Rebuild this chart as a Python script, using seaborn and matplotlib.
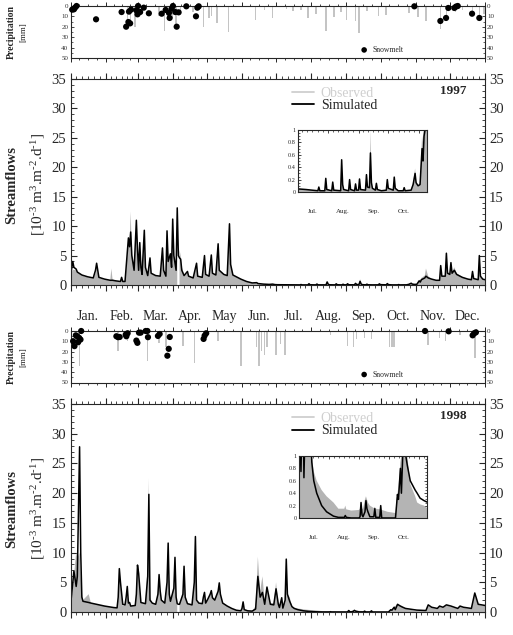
import numpy as np
import matplotlib
matplotlib.use("Agg")
import matplotlib.pyplot as plt
import matplotlib.transforms as mtransforms
from matplotlib.lines import Line2D
from matplotlib.ticker import MultipleLocator, FixedLocator
import seaborn as sns

# calendar
month_len = [31, 28, 31, 30, 31, 30, 31, 31, 30, 31, 30, 31]
month_names = ["Jan.", "Feb.", "Mar.", "Apr.", "May", "Jun.",
               "Jul.", "Aug.", "Sep.", "Oct.", "Nov.", "Dec."]
inset_months = ["Jul.", "Aug.", "Sep.", "Oct."]

# ---- 1997 streamflows (day of year, simulated, observed) ----
days_97 = [0, 2, 3, 5, 6, 10, 15, 20, 22, 23,
           25, 30, 35, 36, 37, 40, 44, 45, 46, 48,
           49, 51, 52, 53, 54, 56, 58, 59, 60, 61,
           62, 63, 65, 66, 68, 70, 71, 75, 79, 81,
           82, 84, 85, 86, 88, 89, 90, 91, 93, 94,
           95, 96, 97, 98, 100, 103, 104, 108, 111, 112,
           116, 118, 119, 122, 124, 125, 128, 130, 131, 135,
           138, 140, 141, 143, 145, 150, 155, 160, 164, 165,
           170, 175, 178, 180, 182, 190, 196, 202, 203, 204,
           209, 210, 211, 216, 217, 218, 225, 226, 227, 228,
           233, 234, 235, 239, 240, 241, 243, 244, 245, 250,
           251, 252, 254, 255, 256, 257, 260, 261, 262, 266,
           271, 272, 273, 278, 279, 280, 283, 288, 289, 290,
           296, 298, 300, 301, 303, 305, 307, 308, 309, 312,
           313, 315, 318, 322, 325, 326, 327, 330, 331, 332,
           334, 335, 336, 338, 340, 345, 350, 353, 354, 355,
           359, 360, 361, 363, 365]
sim_97 = [1.5, 4.0, 3.0, 2.7, 2.2, 1.7, 1.4, 1.2, 2.5, 3.7,
          1.3, 1.0, 0.8, 0.8, 0.8, 0.7, 0.6, 1.3, 0.6, 0.6,
          3.0, 8.0, 6.5, 9.0, 5.0, 2.5, 11.0, 6.0, 2.5, 7.2,
          3.0, 1.8, 9.3, 3.0, 1.6, 4.6, 2.0, 1.6, 1.5, 6.3,
          2.5, 1.5, 9.2, 4.0, 5.3, 3.0, 11.2, 5.0, 2.5, 13.1,
          5.0, 4.6, 4.4, 2.5, 1.6, 2.3, 1.5, 1.2, 3.7, 1.5,
          1.3, 5.0, 1.8, 1.5, 5.1, 2.0, 1.7, 7.0, 2.5, 1.8,
          1.6, 10.4, 3.5, 1.7, 1.5, 1.0, 0.6, 0.35, 0.4, 0.25,
          0.15, 0.1, 0.15, 0.07, 0.05, 0.04, 0.03, 0.02, 0.08, 0.02,
          0.02, 0.22, 0.04, 0.02, 0.16, 0.03, 0.02, 0.52, 0.12, 0.04,
          0.02, 0.2, 0.04, 0.02, 0.13, 0.03, 0.03, 0.21, 0.04, 0.03,
          0.28, 0.08, 0.07, 0.63, 0.15, 0.06, 0.03, 0.14, 0.04, 0.02,
          0.03, 0.2, 0.06, 0.03, 0.24, 0.06, 0.02, 0.02, 0.07, 0.02,
          0.03, 0.12, 0.3, 0.15, 0.1, 0.12, 0.7, 0.5, 0.9, 1.2,
          1.5, 1.2, 1.0, 0.8, 0.8, 3.3, 1.5, 1.5, 5.4, 2.0,
          1.8, 3.8, 2.0, 2.5, 1.8, 1.3, 1.0, 0.9, 2.3, 1.1,
          0.9, 5.0, 1.5, 1.0, 0.9]
obs_97 = [1.8, 2.5, 2.6, 2.5, 2.2, 1.6, 1.3, 1.1, 2.0, 3.0,
          1.2, 0.9, 0.8, 2.8, 1.0, 0.7, 0.6, 1.0, 0.6, 0.6,
          2.5, 7.5, 7.0, 12.5, 5.5, 2.5, 10.5, 6.0, 3.0, 6.5,
          3.0, 1.8, 8.5, 3.0, 1.6, 4.0, 2.0, 1.5, 1.4, 5.5,
          2.5, 1.5, 8.0, 4.0, 5.0, 3.0, 10.0, 5.0, 2.5, 12.0,
          np.nan, 6.0, 5.0, 3.0, 1.8, 2.0, 1.5, 1.2, 3.2, 1.5,
          1.3, 4.5, 1.8, 1.5, 4.5, 2.0, 1.7, 6.5, 2.5, 1.8,
          1.6, 9.5, 3.5, 1.8, 1.5, 1.0, 0.6, 0.3, 0.35, 0.25,
          0.15, 0.1, 0.12, 0.07, 0.05, 0.04, 0.03, 0.02, 0.07, 0.02,
          0.02, 0.2, 0.04, 0.02, 0.14, 0.03, 0.02, 0.45, 0.12, 0.04,
          0.02, 0.18, 0.04, 0.02, 0.12, 0.03, 0.03, 0.18, 0.04, 0.03,
          0.25, 0.08, 0.07, 1.0, 0.15, 0.06, 0.03, 0.12, 0.04, 0.02,
          0.03, 0.17, 0.06, 0.03, 0.2, 0.06, 0.02, 0.02, 0.06, 0.02,
          0.03, 0.15, 0.38, 0.18, 0.1, 0.15, 0.9, 0.8, 1.2, 1.6,
          2.8, 1.5, 1.0, 0.8, 0.8, 2.8, 1.5, 1.5, 4.8, 2.2,
          2.0, 3.5, 2.2, 3.0, 2.0, 1.4, 1.0, 0.9, 2.0, 1.1,
          0.9, 4.5, 1.5, 1.0, 0.9]

# ---- 1998 streamflows ----
days_98 = [0, 3, 5, 6, 8, 9, 10, 11, 16, 18,
           25, 30, 38, 41, 42, 43, 44, 46, 48, 49,
           50, 51, 52, 53, 57, 58, 59, 60, 62, 66,
           68, 69, 70, 72, 75, 77, 78, 79, 80, 83,
           85, 86, 87, 88, 91, 92, 93, 94, 95, 96,
           99, 100, 101, 103, 107, 109, 110, 111, 113, 116,
           117, 118, 119, 121, 123, 124, 125, 127, 130, 131,
           132, 134, 138, 142, 146, 150, 151, 152, 153, 156,
           160, 163, 165, 167, 169, 171, 173, 176, 179, 181,
           183, 184, 186, 187, 189, 190, 191, 193, 195, 197,
           200, 205, 210, 217, 222, 228, 229, 230, 235, 243,
           244, 245, 246, 247, 249, 250, 251, 252, 254, 258,
           259, 260, 264, 265, 266, 272, 280, 281, 282, 283,
           285, 286, 288, 290, 292, 295, 300, 302, 305, 309,
           313, 315, 318, 323, 325, 328, 331, 335, 341, 343,
           346, 353, 356, 359, 365]
sim_98 = [1.0, 6.9, 4.3, 6.0, 27.8, 10.0, 2.5, 1.8, 1.6, 1.5,
          1.2, 1.0, 0.75, 0.7, 2.5, 7.3, 5.0, 1.3, 1.2, 2.5,
          4.3, 1.5, 1.6, 1.0, 1.1, 3.0, 7.9, 6.5, 1.6, 1.4,
          6.0, 19.8, 2.0, 1.5, 1.3, 3.0, 6.3, 3.5, 2.0, 1.5,
          5.0, 11.6, 3.0, 1.8, 4.0, 9.2, 2.5, 1.4, 1.3, 1.3,
          3.0, 7.7, 2.5, 1.4, 1.2, 5.0, 12.7, 2.0, 1.5, 1.4,
          2.5, 3.3, 1.5, 2.2, 3.0, 3.6, 2.4, 2.0, 3.5, 4.9,
          3.0, 1.5, 1.0, 0.6, 0.3, 0.2, 0.6, 1.7, 0.4, 0.2,
          0.15, 0.5, 6.0, 2.5, 3.3, 1.3, 4.2, 1.3, 1.2, 3.9,
          1.3, 0.75, 2.4, 0.65, 2.0, 8.9, 3.0, 1.8, 0.9, 0.6,
          0.4, 0.2, 0.1, 0.03, 0.01, 0.01, 0.04, 0.01, 0.0, 0.0,
          0.02, 0.25, 0.05, 0.02, 0.1, 0.28, 0.15, 0.1, 0.02, 0.02,
          0.15, 0.01, 0.01, 0.2, 0.0, 0.0, 0.0, 0.2, 0.38, 0.3,
          0.8, 0.4, 1.3, 1.05, 0.85, 0.6, 0.45, 0.4, 0.32, 0.28,
          0.25, 1.2, 0.8, 0.6, 1.0, 0.8, 1.2, 1.0, 0.6, 1.0,
          0.8, 0.6, 3.2, 1.3, 1.1]
obs_98 = [0.5, 6.0, 10.0, 9.0, 10.0, 6.0, 3.0, 2.0, 3.0, 1.5,
          1.2, 1.0, 0.75, 0.7, 2.0, 6.5, 4.5, 1.0, 1.2, 2.0,
          3.5, 1.5, 1.4, 1.0, 1.1, 3.0, 7.0, 6.0, 1.6, 1.4,
          8.0, 22.5, 2.5, 1.5, 1.3, 3.5, 6.0, 3.5, 2.2, 1.5,
          5.0, 10.5, 3.5, 2.0, 4.0, 8.5, 2.8, 1.5, np.nan, 1.5,
          3.0, 7.0, 2.5, 1.4, 1.2, 5.0, 11.5, 2.0, 1.5, 1.4,
          2.5, 3.0, 1.5, 2.0, 2.8, 3.3, 2.4, 2.0, 3.5, 4.5,
          3.0, 1.6, 1.0, 0.6, 0.3, 0.2, 0.5, 1.4, 0.4, 0.2,
          0.15, 1.0, 9.3, 3.5, 6.0, 2.0, 4.0, 1.5, 1.5, 5.0,
          1.5, 1.3, 2.0, 1.2, 1.5, 8.0, 3.0, 2.5, 1.0, 0.75,
          0.6, 0.45, 0.35, 0.25, 0.15, 0.15, 0.2, 0.14, 0.12, 0.13,
          0.15, 0.2, 0.15, 0.15, 0.3, 0.35, 0.3, 0.25, 0.2, 0.16,
          0.18, 0.15, 0.14, 0.16, 0.13, 0.1, 0.08, 0.3, 0.4, 0.5,
          0.9, 1.0, 1.3, 1.1, 1.0, 0.55, 0.35, 0.25, 0.22, 0.2,
          0.15, 1.0, 0.7, 0.5, 0.9, 0.7, 1.1, 0.9, 0.5, 0.9,
          0.7, 0.5, 2.8, 1.2, 1.0]

# ---- precipitation (mm) and snowmelt ----
rain_day_97 = [50, 53, 57, 63, 78, 83, 90, 93, 97, 108, 117, 122, 124, 129,
               139, 163, 171, 178, 190, 196, 203, 209, 216, 225, 232, 238,
               243, 251, 254, 261, 271, 278, 298, 306, 313, 326, 331, 339,
               345, 354, 360, 364]
rain_mm_97 = [20, 18, 20, 8, 10, 24, 12, 22, 8, 6, 20, 12, 10, 16,
              25, 13, 4, 12, 3, 5, 4, 12, 8, 24, 11, 6,
              13, 14, 26, 5, 10, 9, 7, 11, 14, 22, 14, 6,
              4, 9, 12, 8]
snow_day_97 = [1.5, 3, 4, 5.3, 22.5, 45, 49, 51, 52.5, 51.5, 53.3, 58, 59,
               59.5, 61.3, 64.5, 69, 80.3, 83.8, 86.7, 87.3, 89, 90.2, 92.3,
               93.5, 95.2, 102, 110.5, 111.7, 112.9, 302.8, 325.7, 330.7,
               332.7, 338, 339.4, 341, 353.6, 360]
snow_mm_97 = [3.5, 3.2, 1.6, 0, 12.8, 5.8, 19.9, 15.4, 16.7, 5.4, 3.5, 4.2, 8,
              0, 5.8, 1.6, 7, 7.4, 3.8, 6.7, 11.5, 2.6, 0, 5.8,
              19.9, 6.1, 0.3, 9.9, 1.6, 0.3, 0.3, 14.4, 11.5,
              1.9, 1.9, 0.6, 0, 7.4, 11.5]

rain_day_98 = [8, 42, 50, 68, 78, 84, 99, 109, 119, 130, 150, 150, 164, 166,
               168, 171, 173, 181, 185, 189, 229, 244, 249, 252, 259, 265,
               281, 283, 285, 315, 325, 330, 343, 356]
rain_mm_98 = [34, 19.5, 10, 29, 11.5, 16, 15, 31, 4, 10, 34, 34, 16, 34,
              19.5, 23, 16, 23, 13, 23, 4, 15, 16, 8, 7, 8,
              16, 16, 16, 14, 7, 10, 4, 26]
snow_day_98 = [2.3, 3.5, 4.7, 5.9, 6.7, 7.6, 8.8, 9.4, 40.4, 41.9, 43.3, 48.6,
               49.2, 50.3, 58, 58.9, 60.3, 61.8, 66.2, 67.7, 68.2, 77, 78.5,
               85.3, 86.5, 87.4, 117.2, 118.1, 119.5, 312.2, 333, 354.1,
               355.5, 357]
snow_mm_98 = [9.9, 14.7, 4.2, 5.1, 10.9, 6.7, 8.3, 0, 5.1, 6, 5.8, 3.5,
              5.1, 2.2, 9.3, 11.5, 1.6, 1.6, 0, 0, 6, 4.8, 2.9,
              24, 17.3, 5.8, 7.7, 4.5, 2.2, 0, 0.3, 4.2,
              2.2, 1.3]

sns.set_style("ticks")
plt.rcParams["font.family"] = ["Liberation Serif", "DejaVu Serif"]
plt.rcParams["mathtext.fontset"] = "custom"
plt.rcParams["mathtext.rm"] = "Liberation Serif"
plt.rcParams["mathtext.it"] = "Liberation Serif:italic"
plt.rcParams["axes.linewidth"] = 0.8

OBS_FILL = "#b4b4b4"
OBS_LINE = "#cfcfcf"

month_start = np.cumsum([0] + month_len)
month_mid = month_start[:-1] + np.array(month_len) / 2


def month_minor(n):
    ticks = []
    for s, l in zip(month_start[:-1], month_len):
        ticks += [s + l * k / n for k in range(1, n)]
    return ticks


def time_axis(ax, n_minor, lo=0, hi=365):
    ax.set_xlim(lo, hi)
    ax.xaxis.set_major_locator(FixedLocator(month_start))
    ax.xaxis.set_minor_locator(FixedLocator(month_minor(n_minor)))
    ax.set_xticklabels([])
    ax.set_xlabel("")
    ax.set_ylabel("")


def draw_precip(ax, rd, rmm, sd, smm):
    ax.bar(rd, rmm, width=1.3, color="#c4c4c4", lw=0)
    sns.scatterplot(x=sd, y=smm, ax=ax, color="k", s=20, edgecolor="none",
                    label="Snowmelt", zorder=3, clip_on=False)
    time_axis(ax, 4)
    ax.set_ylim(50, 0)
    ax.yaxis.set_major_locator(FixedLocator(range(0, 51, 10)))
    ax.yaxis.set_minor_locator(MultipleLocator(5))
    ax.tick_params(axis="x", which="major", direction="out", length=3,
                   top=True, bottom=True, width=0.7)
    ax.tick_params(axis="x", which="minor", direction="out", length=1.5,
                   top=True, bottom=True, width=0.6)
    ax.tick_params(axis="y", which="major", direction="in", length=2.5,
                   left=True, right=True, labelright=True, labelsize=5,
                   pad=1.5, width=0.6, labelcolor="#333333")
    ax.tick_params(axis="y", which="minor", direction="in", length=1.2,
                   left=True, right=True, width=0.5)
    ax.legend(loc="center left", bbox_to_anchor=(0.69, 0.155), frameon=False,
              fontsize=5.5, handletextpad=0.1, borderpad=0, borderaxespad=0,
              markerscale=0.9)


def draw_flow(ax, d, obs, sim, lw):
    ax.fill_between(d, obs, color=OBS_FILL, lw=0)
    sns.lineplot(x=d, y=sim, ax=ax, color="k", lw=lw, estimator=None)


def draw_main(ax, d, obs, sim, year):
    draw_flow(ax, d, obs, sim, 1.1)
    time_axis(ax, 6)
    ax.set_ylim(0, 35)
    ax.yaxis.set_major_locator(MultipleLocator(5))
    ax.yaxis.set_minor_locator(MultipleLocator(1))
    ax.tick_params(axis="x", which="major", direction="out", length=4,
                   top=True, bottom=True, width=0.8)
    ax.tick_params(axis="x", which="minor", direction="out", length=2,
                   top=True, bottom=True, width=0.6)
    ax.tick_params(axis="y", which="major", direction="in", length=4,
                   left=True, right=True, labelright=True, labelsize=10.5,
                   pad=3, width=0.8)
    ax.tick_params(axis="y", which="minor", direction="in", length=2,
                   left=True, right=True, width=0.6)
    handles = [Line2D([], [], color=OBS_LINE, lw=1.3),
               Line2D([], [], color="k", lw=1.3)]
    leg = ax.legend(handles, ["Observed", "Simulated"], loc="center left",
                    bbox_to_anchor=(0.535, 0.9), frameon=False, fontsize=10,
                    handlelength=1.6, handletextpad=0.45, labelspacing=-0.05,
                    borderpad=0, borderaxespad=0)
    leg.get_texts()[0].set_color(OBS_LINE)
    ax.text(0.924, 0.943, year, transform=ax.transAxes, ha="center",
            va="center", fontsize=9.5, fontweight="bold")


def draw_inset(ax, d, obs, sim):
    draw_flow(ax, d, obs, sim, 1.1)
    time_axis(ax, 6, 182, 312)
    ax.set_ylim(0, 1)
    ax.yaxis.set_major_locator(FixedLocator([0, 0.2, 0.4, 0.6, 0.8, 1]))
    ax.set_yticklabels(["0", "0.2", "0.4", "0.6", "0.8", "1"])
    ax.yaxis.set_minor_locator(MultipleLocator(0.05))
    ax.tick_params(axis="both", which="major", direction="in", length=2.5,
                   top=True, right=True, labelsize=4.5, pad=1.5, width=0.6)
    ax.tick_params(axis="both", which="minor", direction="in", length=1.2,
                   top=True, right=True, width=0.5)
    trans = mtransforms.blended_transform_factory(ax.transData, ax.transAxes)
    for i, name in enumerate(inset_months):
        ax.text(month_mid[6 + i], -0.32, name, transform=trans, ha="center",
                va="center", fontsize=5)


W, H = 513, 635
fig = plt.figure(figsize=(W / 100, H / 100), dpi=100)


def box(x0, x1, y0, y1):
    return [x0 / W, 1 - y1 / H, (x1 - x0) / W, (y1 - y0) / H]


ax_p1 = fig.add_axes(box(70.5, 485, 6, 58))
ax_q1 = fig.add_axes(box(70.5, 485, 79, 285))
ax_i1 = fig.add_axes(box(298, 427, 130, 192))
ax_p2 = fig.add_axes(box(70.5, 485, 331, 382.5))
ax_q2 = fig.add_axes(box(70.5, 485, 404, 612))
ax_i2 = fig.add_axes(box(299, 427, 456, 518))

draw_precip(ax_p1, rain_day_97, rain_mm_97, snow_day_97, snow_mm_97)
draw_precip(ax_p2, rain_day_98, rain_mm_98, snow_day_98, snow_mm_98)
draw_main(ax_q1, days_97, obs_97, sim_97, "1997")
draw_main(ax_q2, days_98, obs_98, sim_98, "1998")
draw_inset(ax_i1, days_97, obs_97, sim_97)
draw_inset(ax_i2, days_98, obs_98, sim_98)

# month names between the two years
trans = mtransforms.blended_transform_factory(ax_p2.transData, ax_p2.transAxes)
for m, name in zip(month_mid, month_names):
    ax_p2.text(m, 1.29, name, transform=trans, ha="center", va="center",
               fontsize=10)

# axis titles
for yc in (185, 509):
    fig.text(12 / W, 1 - yc / H, "Streamflows", rotation=90, ha="center",
             va="center", fontsize=10.5, fontweight="bold")
    fig.text(38 / W, 1 - yc / H,
             r"[10$^{\text{-}3}$ m$^{3}$.m$^{\text{-}2}$.d$^{\text{-}1}$]",
             rotation=90, ha="center", va="center", fontsize=11)
for yc in (32, 357):
    fig.text(11.5 / W, 1 - yc / H, "Precipitation", rotation=90,
             ha="center", va="center", fontsize=7, fontweight="bold")
    fig.text(23 / W, 1 - yc / H, "[mm]", rotation=90, ha="center",
             va="center", fontsize=6.5)

fig.savefig("out.png", dpi=100)
